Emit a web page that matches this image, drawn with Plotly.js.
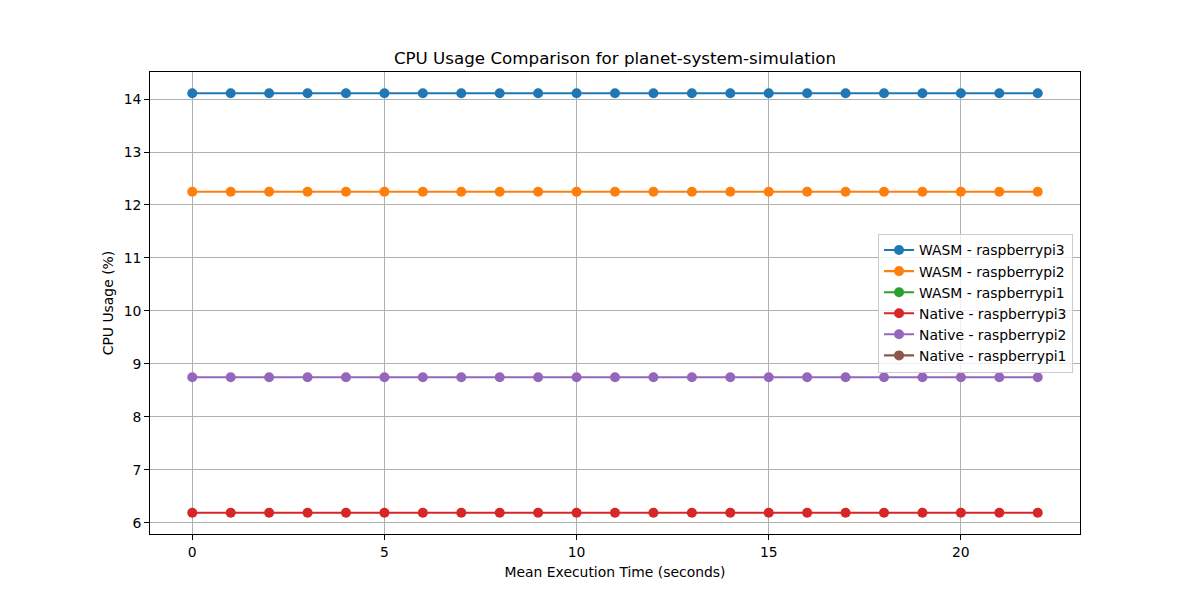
<!DOCTYPE html>
<html>
<head>
<meta charset="utf-8">
<script src="https://cdn.plot.ly/plotly-3.0.1.min.js"></script>
<style>html,body{margin:0;padding:0;background:#fff;}#chart{width:1200px;height:600px;}</style>
</head>
<body>
<div id="chart"></div>
<script>
const seriesNames = ["WASM - raspberrypi3", "WASM - raspberrypi2", "WASM - raspberrypi1", "Native - raspberrypi3", "Native - raspberrypi2", "Native - raspberrypi1"];
const xValues = [0, 1, 2, 3, 4, 5, 6, 7, 8, 9, 10, 11, 12, 13, 14, 15, 16, 17, 18, 19, 20, 21, 22];
const wasmPi3 = [14.11, 14.11, 14.11, 14.11, 14.11, 14.11, 14.11, 14.11, 14.11, 14.11, 14.11, 14.11, 14.11, 14.11, 14.11, 14.11, 14.11, 14.11, 14.11, 14.11, 14.11, 14.11, 14.11];
const wasmPi2 = [12.25, 12.25, 12.25, 12.25, 12.25, 12.25, 12.25, 12.25, 12.25, 12.25, 12.25, 12.25, 12.25, 12.25, 12.25, 12.25, 12.25, 12.25, 12.25, 12.25, 12.25, 12.25, 12.25];
const wasmPi1 = [null];
const nativePi3 = [6.19, 6.19, 6.19, 6.19, 6.19, 6.19, 6.19, 6.19, 6.19, 6.19, 6.19, 6.19, 6.19, 6.19, 6.19, 6.19, 6.19, 6.19, 6.19, 6.19, 6.19, 6.19, 6.19];
const nativePi2 = [8.75, 8.75, 8.75, 8.75, 8.75, 8.75, 8.75, 8.75, 8.75, 8.75, 8.75, 8.75, 8.75, 8.75, 8.75, 8.75, 8.75, 8.75, 8.75, 8.75, 8.75, 8.75, 8.75];
const nativePi1 = [null];
const seriesValues = [wasmPi3, wasmPi2, wasmPi1, nativePi3, nativePi2, nativePi1];
const colors = ["#1f77b4", "#ff7f0e", "#2ca02c", "#d62728", "#9467bd", "#8c564b"];

const FONT = "DejaVu Sans, sans-serif";
const traces = seriesNames.map((name, i) => ({
  type: "scatter",
  mode: "lines+markers",
  name: name,
  x: xValues.slice(0, seriesValues[i].length),
  y: seriesValues[i],
  line: {color: colors[i], width: 2.08},
  marker: {color: colors[i], size: 10},
  showlegend: true,
  legendrank: i + 1
}));

const layout = {
  width: 1200, height: 600,
  paper_bgcolor: "#fff", plot_bgcolor: "#fff",
  margin: {l: 150, r: 120, t: 72, b: 66, pad: 0},
  font: {family: FONT, size: 13.9, color: "#000"},
  title: {text: "CPU Usage Comparison for planet-system-simulation", font: {family: FONT, size: 16.7, color: "#000"},
          x: 0.5, xref: "paper", xanchor: "center", y: 1 - 58/600, yref: "container", yanchor: "middle"},
  xaxis: {
    range: [-1.1, 23.1], tickmode: "linear", tick0: 0, dtick: 5,
    showgrid: true, gridcolor: "#b0b0b0", gridwidth: 1, zeroline: false,
    showline: true, linecolor: "#000", linewidth: 1, mirror: true,
    ticks: "outside", ticklen: 4.9, tickcolor: "#000", tickwidth: 1,
    tickfont: {family: FONT, size: 13.9, color: "#000"},
    title: {text: "Mean Execution Time (seconds)", font: {family: FONT, size: 13.9, color: "#000"}, standoff: 8}
  },
  yaxis: {
    range: [5.79, 14.51], tickmode: "linear", tick0: 6, dtick: 1,
    showgrid: true, gridcolor: "#b0b0b0", gridwidth: 1, zeroline: false,
    showline: true, linecolor: "#000", linewidth: 1, mirror: true,
    ticks: "outside", ticklen: 4.9, tickcolor: "#000", tickwidth: 1,
    tickfont: {family: FONT, size: 13.9, color: "#000"},
    title: {text: "CPU Usage (%)", font: {family: FONT, size: 13.9, color: "#000"}, standoff: 6}
  },
  legend: {
    x: 0.9925, xanchor: "right", y: 0.5, yanchor: "middle",
    bgcolor: "rgba(255,255,255,0.8)", bordercolor: "#cccccc", borderwidth: 1,
    font: {family: FONT, size: 13.9, color: "#000"},
    itemwidth: 30, tracegroupgap: 0
  },
  showlegend: true
};

Plotly.newPlot("chart", traces, layout, {displayModeBar: false, staticPlot: true});
</script>
</body>
</html>
